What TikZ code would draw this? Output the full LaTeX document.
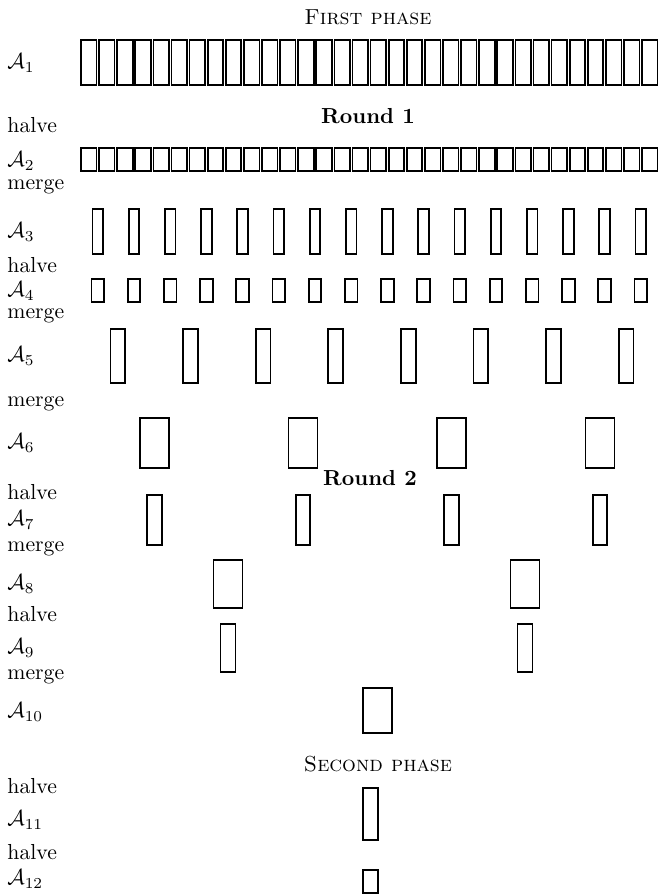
\documentclass[tikz,border=0pt]{standalone}
\usepackage{tikz}
\usetikzlibrary{positioning}
\def\upx{0.46pt}

\begin{document}
\begin{tikzpicture}[
    x=\upx, y=-\upx,
    kotak/.style={draw, line width=0.8pt, inner sep=0pt, outer sep=0pt},
    tinggi/.style={kotak, minimum height=#1*\upx},
    lebar/.style={minimum width=#1*\upx},
    langkah/.style={anchor=west, inner sep=0pt},
    judul/.style={inner sep=0pt}
  ]
    \useasboundingbox (0,0) rectangle (662,895);
    % first phase, round 1
    \node[judul] (fase1) at (368,17) {\textsc{First phase}};
    \node[judul] (ronde1) at (368,116) {\textbf{Round 1}};
    \foreach \i in {0,...,31} {
      \pgfmathsetmacro{\x}{88.75 + \i*18.1}
      \node[tinggi=45, lebar=15.5] (a1-\i) at (\x,62.5) {};
      \node[tinggi=23, lebar=15.5] (a2-\i) at (\x,159.5) {};
    }
    \foreach \i in {0,...,15} {
      \pgfmathsetmacro{\x}{97.8 + \i*36.2}
      \node[tinggi=45, lebar=10.5] (a3-\i) at (\x,231.5) {};
      \node[tinggi=23, lebar=12.5] (a4-\i) at (\x,290.5) {};
    }
    \foreach \i in {0,...,7} {
      \pgfmathsetmacro{\x}{117.9 + \i*72.6}
      \node[tinggi=54, lebar=14.8] (a5-\i) at (\x,356) {};
    }
    \foreach \i in {0,...,3} {
      \pgfmathsetmacro{\x}{154.5 + \i*148.5}
      \node[tinggi=50, lebar=29] (a6-\i) at (\x,443) {};
      \node[tinggi=50, lebar=14.5] (a7-\i) at (\x,520) {};
    }
    % round 2
    \node[judul] (ronde2) at (370,478) {\textbf{Round 2}};
    \foreach \i in {0,1} {
      \pgfmathsetmacro{\x}{228 + \i*297}
      \node[tinggi=48, lebar=29] (a8-\i) at (\x,584) {};
      \node[tinggi=48, lebar=15] (a9-\i) at (\x,648) {};
    }
    \node[tinggi=45, lebar=29] (a10) at (377.5,710.5) {};
    % second phase
    \node[judul] (fase2) at (378,764) {\textsc{Second phase}};
    \node[tinggi=52, lebar=15, anchor=west] (a11) at (363,814) {};
    \node[tinggi=23, lebar=15, anchor=west] (a12) at (363,881.5) {};
    % left column
    \node[langkah] (lA1)  at (7,63)  {$\mathcal{A}_1$};
    \node[langkah] (op1)  at (7,125) {halve};
    \node[langkah] (lA2)  at (7,161) {$\mathcal{A}_2$};
    \node[langkah] (op2)  at (7,187) {merge};
    \node[langkah] (lA3)  at (7,232) {$\mathcal{A}_3$};
    \node[langkah] (op3)  at (7,265) {halve};
    \node[langkah] (lA4)  at (7,291) {$\mathcal{A}_4$};
    \node[langkah] (op4)  at (7,316) {merge};
    \node[langkah] (lA5)  at (7,356) {$\mathcal{A}_5$};
    \node[langkah] (op5)  at (7,404) {merge};
    \node[langkah] (lA6)  at (7,443) {$\mathcal{A}_6$};
    \node[langkah] (op6)  at (7,492) {halve};
    \node[langkah] (lA7)  at (7,520) {$\mathcal{A}_7$};
    \node[langkah] (op7)  at (7,549) {merge};
    \node[langkah] (lA8)  at (7,584) {$\mathcal{A}_8$};
    \node[langkah] (op8)  at (7,614) {halve};
    \node[langkah] (lA9)  at (7,648) {$\mathcal{A}_9$};
    \node[langkah] (op9)  at (7,677) {merge};
    \node[langkah] (lA10) at (7,712) {$\mathcal{A}_{10}$};
    \node[langkah] (op10) at (7,786) {halve};
    \node[langkah] (lA11) at (7,820) {$\mathcal{A}_{11}$};
    \node[langkah] (op11) at (7,852) {halve};
    \node[langkah] (lA12) at (7,879) {$\mathcal{A}_{12}$};
\end{tikzpicture}
\end{document}
